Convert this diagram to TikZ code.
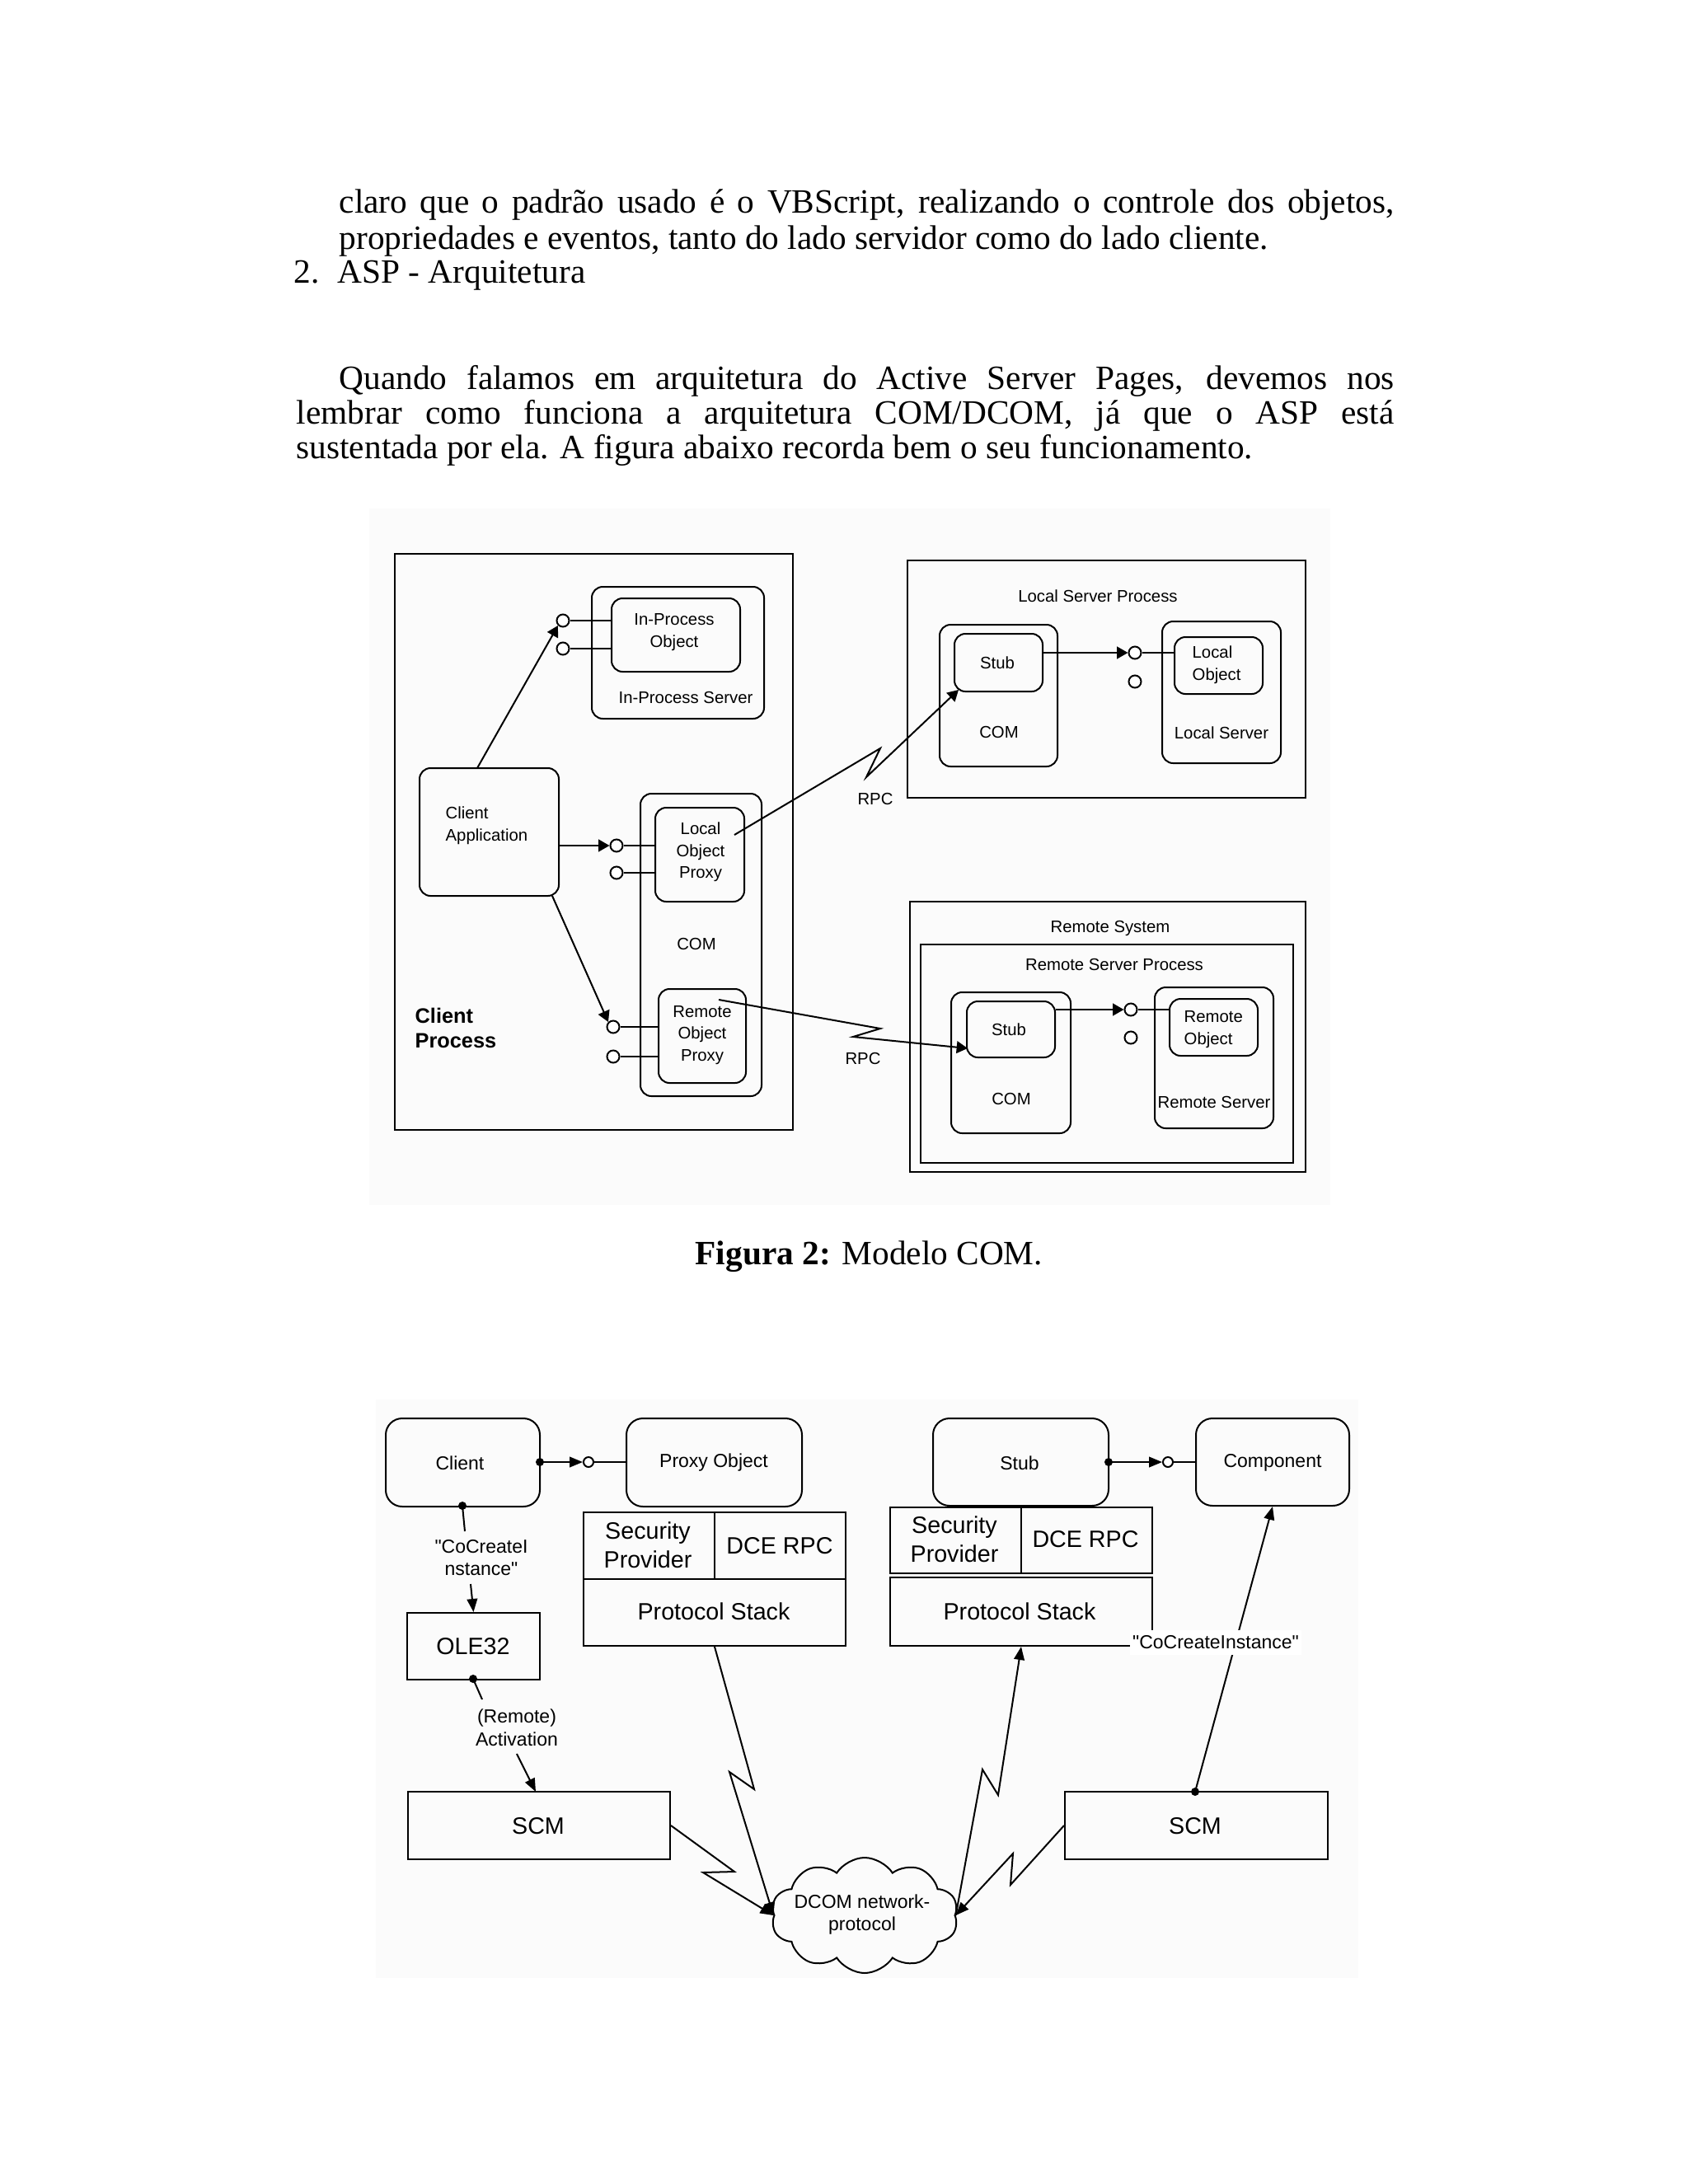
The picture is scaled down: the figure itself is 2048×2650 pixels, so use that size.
\documentclass[tikz,border=0pt]{standalone}
\usepackage{fontspec}
\setmainfont{Liberation Serif}
\setsansfont{Liberation Sans}
\usetikzlibrary{fit,shapes.symbols,arrows.meta}
\tikzset{
  rbox/.style={draw, rounded corners=4pt, line width=0.6pt, inner sep=0pt},
  rboxb/.style={draw, rounded corners=6pt, line width=0.6pt, inner sep=0pt},
  sbox/.style={draw, line width=0.6pt, inner sep=0pt},
  fa/.style={font=\sffamily\fontsize{6.1}{8}\selectfont, inner sep=0pt, align=center},
  fb/.style={font=\sffamily\bfseries\fontsize{7.6}{9}\selectfont, inner sep=0pt, align=left},
  fc/.style={font=\sffamily\fontsize{8.6}{10.5}\selectfont, inner sep=0pt, align=center},
  fd/.style={font=\sffamily\fontsize{6.9}{8.3}\selectfont, inner sep=0pt, align=center},
  body/.style={font=\fontsize{12.4}{14}\selectfont, inner sep=0pt, anchor=base west},
  lp/.style={circle, draw, fill=white, minimum size=4.5pt, inner sep=0pt, line width=0.6pt},
  lps/.style={circle, draw, fill=white, minimum size=3.6pt, inner sep=0pt, line width=0.6pt},
  dotn/.style={circle, fill=black, minimum size=3pt, inner sep=0pt},
  conn/.style={line width=0.6pt},
  arA/.style={line width=0.6pt, -{Triangle[length=4pt,width=4.4pt]}},
  arB/.style={line width=0.6pt, -{Triangle[length=4.8pt,width=3.8pt]}},
}
\begin{document}
\begin{tikzpicture}[x=0.010542cm, y=-0.010542cm]
\path[use as bounding box, fill=white] (0,0) rectangle (2048,2650);

% ---------- body text ----------
\node[body] (t1) at (411,258) {\makebox[384pt][s]{claro que o padrão usado é o VBScript, realizando o controle dos objetos,}};
\node[body] (t2) at (411,302) {propriedades e eventos, tanto do lado servidor como do lado cliente.};
\node[body] (t3a) at (356,343) {2.};
\node[body] (t3b) at (409,343) {ASP - Arquitetura};
\node[body] (p1) at (411,472) {\makebox[384pt][s]{Quando falamos em arquitetura do Active Server Pages, devemos nos}};
\node[body] (p2) at (359,514) {\makebox[399.6pt][s]{lembrar como funciona a arquitetura COM/DCOM, já que o ASP está}};
\node[body] (p3) at (359,556) {sustentada por ela. A figura abaixo recorda bem o seu funcionamento.};

% ---------- Figure 1 ----------
\fill[black!1.5] (448,617) rectangle (1614,1462);
\node[sbox, fit={(479,672) (962,1371)}] (cp) {};
\node[rbox, fit={(718,712) (927,872)}] (ips) {};
\node[rbox, fit={(742,726) (898,815)}] (ipo) {};
\node[fa] (ipot) at (818,767) {In-Process\\Object};
\node[fa] (ipst) at (832,846) {In-Process Server};
\node[lp] (l1) at (683,753) {};
\node[lp] (l2) at (683,787) {};
\draw[conn] (l1.east) -- (ipo.west |- l1);
\draw[conn] (l2.east) -- (ipo.west |- l2);

\node[rbox, fit={(509,932) (678,1087)}] (ca) {};
\node[fa, align=left, anchor=west] (cat) at (540,1002) {Client\\Application};
\node[rbox, fit={(777,963) (924,1330)}] (com1) {};
\node[rbox, fit={(795,980) (903,1094)}] (lop) {};
\node[fa] (lopt) at (850,1034) {Local\\Object\\Proxy};
\node[fa] (com1t) at (845,1145) {COM};
\node[rbox, fit={(799,1200) (905,1314)}] (rop) {};
\node[fa] (ropt) at (852,1256) {Remote\\Object\\Proxy};
\node[lp] (l3) at (748,1026) {};
\node[lp] (l4) at (748,1059) {};
\node[lp] (l5) at (744,1246) {};
\node[lp] (l6) at (744,1282) {};
\draw[conn] (l3.east) -- (lop.west |- l3);
\draw[conn] (l4.east) -- (lop.west |- l4);
\draw[conn] (l5.east) -- (rop.west |- l5);
\draw[conn] (l6.east) -- (rop.west |- l6);
\node[fb, anchor=west] (cpt) at (503,1247) {Client\\Process};

\coordinate (caTop) at (579,932);
\coordinate (caBot) at (670,1087);
\draw[arA] (caTop) -- (l1.south west);
\draw[arA] (ca.east |- l3) -- (l3.west);
\draw[arA] (caBot) -- (l5.north west);

% Local server process
\node[sbox, fit={(1101,680) (1584,968)}] (lsp) {};
\node[fa] (lspt) at (1332,723) {Local Server Process};
\node[rbox, fit={(1140,758) (1283,930)}] (com2) {};
\node[rbox, fit={(1158,769) (1265,839)}] (stub2) {};
\node[fa] (stub2t) at (1210,804) {Stub};
\node[fa] (com2t) at (1212,888) {COM};
\node[rbox, fit={(1410,754) (1554,926)}] (ls) {};
\node[rbox, fit={(1425,773) (1532,842)}] (lo) {};
\node[fa, align=left, anchor=west] (lot) at (1446,807) {Local\\Object};
\node[fa] (lst) at (1482,889) {Local Server};
\node[lp] (l7) at (1377,792) {};
\node[lp] (l8) at (1377,827) {};
\draw[arA] (stub2.east |- l7) -- (l7.west);
\draw[conn] (l7.east) -- (lo.west |- l7);

\coordinate (rpc1s) at (891,1013);
\coordinate (rpc1e) at (1163,837);
\draw[arA] (rpc1s) -- (1068,908) -- (1051,943) -- (rpc1e);
\node[fa] (rpc1) at (1062,969) {RPC};

% Remote system
\node[sbox, fit={(1104,1094) (1584,1422)}] (rs) {};
\node[fa] (rst) at (1347,1126) {Remote System};
\node[sbox, fit={(1117,1146) (1569,1411)}] (rsp) {};
\node[fa] (rspt) at (1352,1170) {Remote Server Process};
\node[rbox, fit={(1154,1204) (1299,1375)}] (com3) {};
\node[rbox, fit={(1173,1215) (1280,1283)}] (stub3) {};
\node[fa] (stub3t) at (1224,1249) {Stub};
\node[fa] (com3t) at (1227,1333) {COM};
\node[rbox, fit={(1401,1198) (1545,1369)}] (rsv) {};
\node[rbox, fit={(1419,1212) (1526,1281)}] (ro) {};
\node[fa, align=left, anchor=west] (rot) at (1436,1249) {Remote\\Object};
\node[fa] (rsvt) at (1473,1337) {Remote Server};
\node[lp] (l9) at (1372,1225) {};
\node[lp] (l10) at (1372,1259) {};
\draw[arA] (stub3.east |- l9) -- (l9.west);
\draw[conn] (l9.east) -- (ro.west |- l9);

\coordinate (rpc2s) at (872,1213);
\coordinate (rpc2e) at (1174,1272);
\draw[arA] (rpc2s) -- (1068,1248) -- (1035,1258) -- (rpc2e);
\node[fa] (rpc2) at (1047,1284) {RPC};

% caption
\node[body] (cap) at (843,1534) {\textbf{Figura 2:} Modelo COM.};

% ---------- Figure 2 ----------
\fill[black!1.5] (456,1698) rectangle (1648,2400);
\node[rboxb, fit={(468,1721) (655,1828)}] (client) {};
\node[fd] (clientt) at (558,1775) {Client};
\node[rboxb, fit={(760,1721) (973,1828)}] (proxy) {};
\node[fd] (proxyt) at (866,1775) {Proxy Object};
\node[dotn] (d1) at (655,1774) {};
\node[lps] (c1) at (714,1774) {};
\draw[arB] (d1.center) -- (c1.west);
\draw[conn] (c1.east) -- (proxy.west |- c1);

\node[sbox, fit={(708,1835) (867,1916)}] (sec1) {};
\node[sbox, fit={(867,1835) (1026,1916)}] (dce1) {};
\node[sbox, fit={(708,1916) (1026,1997)}] (ps1) {};
\node[fc] (sec1t) at (786,1875) {Security\\Provider};
\node[fc] (dce1t) at (946,1876) {DCE RPC};
\node[fc] (ps1t) at (866,1955) {Protocol Stack};

\node[dotn] (d2) at (561,1827) {};
\coordinate (d2e) at (564,1858);
\draw[conn] (d2.center) -- (d2e);
\node[fd] (cci1) at (584,1890) {\textquotedbl CoCreateI\\nstance\textquotedbl};
\coordinate (cci1s) at (571,1922);
\node[sbox, fit={(494,1957) (655,2038)}] (ole) {};
\node[fc] (olet) at (574,1998) {OLE32};
\draw[arB] (cci1s) -- (ole.north);

\node[dotn] (d3) at (574,2037) {};
\coordinate (d3e) at (585,2062);
\draw[conn] (d3.center) -- (d3e);
\node[fd] (act) at (627,2096) {(Remote)\\Activation};
\coordinate (acts) at (627,2128);
\node[sbox, fit={(495,2174) (813,2256)}] (scm1) {};
\node[fc] (scm1t) at (653,2216) {SCM};
\draw[arB] (acts) -- (650,2174);

\node[rboxb, fit={(1132,1721) (1345,1827)}] (stub) {};
\node[fd] (stubt) at (1237,1775) {Stub};
\node[rboxb, fit={(1451,1721) (1637,1827)}] (comp) {};
\node[fd] (compt) at (1544,1775) {Component};
\node[dotn] (d4) at (1345,1774) {};
\node[lps] (c2) at (1417,1774) {};
\draw[arB] (d4.center) -- (c2.west);
\draw[conn] (c2.east) -- (comp.west |- c2);

\node[sbox, fit={(1080,1829) (1239,1909)}] (sec2) {};
\node[sbox, fit={(1239,1829) (1398,1909)}] (dce2) {};
\node[sbox, fit={(1080,1914) (1398,1997)}] (ps2) {};
\node[fc] (sec2t) at (1158,1868) {Security\\Provider};
\node[fc] (dce2t) at (1317,1868) {DCE RPC};
\node[fc] (ps2t) at (1237,1955) {Protocol Stack};

\node[sbox, fit={(1292,2174) (1611,2256)}] (scm2) {};
\node[fc] (scm2t) at (1450,2216) {SCM};
\node[dotn] (d5) at (1450,2174) {};
\draw[arB] (d5.center) -- (comp.south);
\node[fd, fill=white, inner xsep=1pt, inner ysep=2pt] (cci2) at (1475,1993) {\textquotedbl CoCreateInstance\textquotedbl};

% cloud
\node[cloud, draw, line width=0.6pt, cloud puffs=10, cloud puff arc=115, cloud ignores aspect,
      minimum width=68pt, minimum height=42pt, inner sep=0pt] (net) at (1049,2324) {};
\node[fd] (nett) at (1046,2323) {DCOM network-\\protocol};

\draw[arB] (ps1.south) -- (915,2171) -- (885,2150) -- (net.west);
\draw[arB] (scm1.east) -- (891,2271) -- (853,2272) -- (net.west);
\draw[arB] (net.east) -- (1192,2147) -- (1211,2178) -- (ps2.south);
\draw[arB] (scm2.west) -- (1226,2287) -- (1229,2249) -- (net.east);
\end{tikzpicture}
\end{document}
